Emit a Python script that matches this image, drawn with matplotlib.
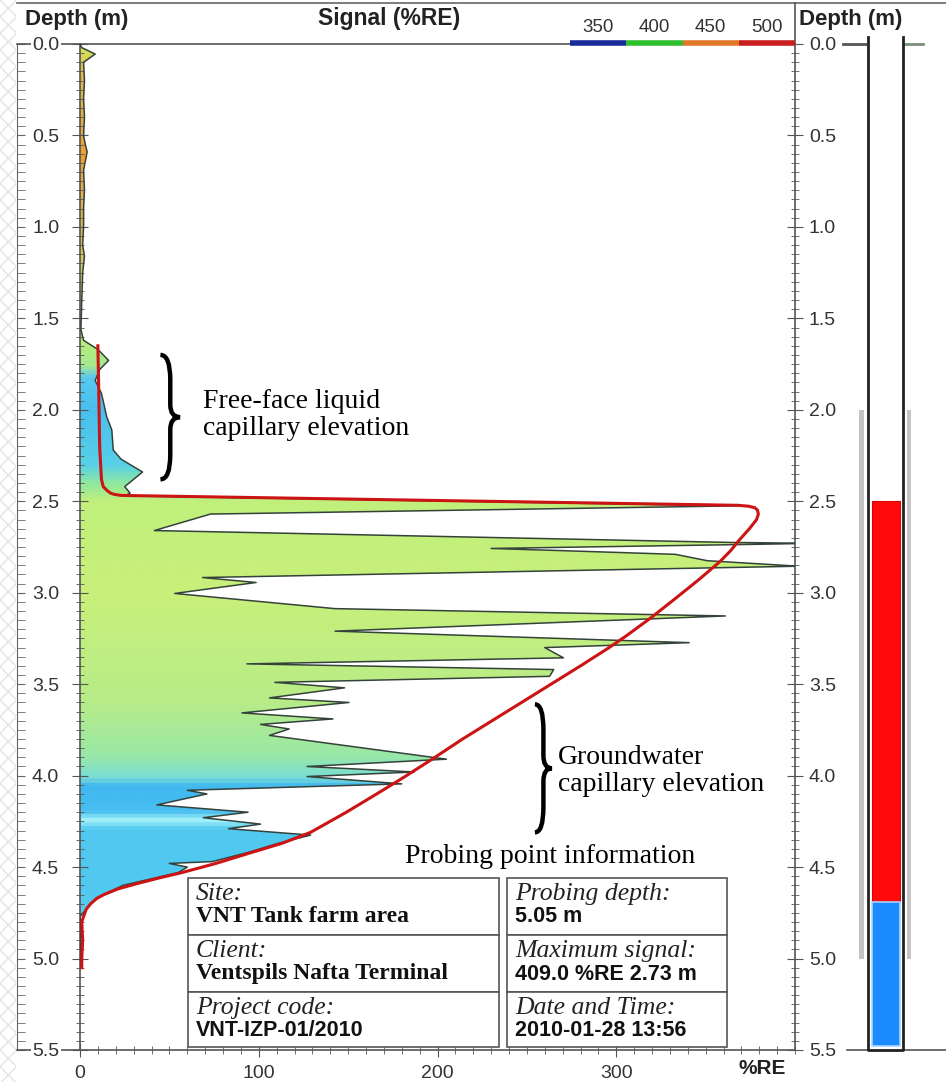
import numpy as np
import matplotlib
matplotlib.use('Agg')
import matplotlib.pyplot as plt
from matplotlib.colors import LinearSegmentedColormap
from matplotlib.lines import Line2D
from matplotlib.patches import Rectangle, PathPatch
from matplotlib.path import Path
from matplotlib.ticker import MultipleLocator, FixedLocator
from matplotlib.transforms import ScaledTranslation

# probe log, depth in m, signal in %RE
sig_depth = [0.00, 0.02, 0.055, 0.10, 0.20, 0.30, 0.40, 0.50, 0.55, 0.59, 0.64, 0.69, 0.80, 0.90,
             1.00, 1.10, 1.16, 1.25, 1.40, 1.56, 1.62, 1.67, 1.73, 1.78, 1.84, 1.91, 2.04, 2.11,
             2.22, 2.27, 2.34, 2.42, 2.455, 2.47, 2.525, 2.57, 2.66, 2.725, 2.73, 2.735, 2.758,
             2.77, 2.79, 2.825, 2.855, 2.917, 2.944, 3.004, 3.087, 3.127, 3.21, 3.273, 3.30, 3.356,
             3.389, 3.42, 3.457, 3.49, 3.52, 3.575, 3.60, 3.657, 3.69, 3.72, 3.745, 3.78, 3.91,
             3.95, 3.98, 4.005, 4.045, 4.08, 4.10, 4.16, 4.20, 4.23, 4.265, 4.29, 4.325, 4.37,
             4.42, 4.47, 4.48, 4.50, 4.53, 4.60, 4.67, 4.77, 4.90, 5.05]
sig_val = [0, 1, 8.5, 2, 2.5, 2, 2.5, 2, 3, 4, 3, 2, 2.5, 2,
           2, 1.5, 2.5, 1.5, 1, 0.5, 2, 10, 16, 11, 8.5, 12, 15, 17.8,
           18.6, 23, 35, 25, 28, 25, 368, 73, 41.6, 364, 409, 380, 230,
           270, 333, 351, 402, 68.6, 98.5, 53, 142.7, 361, 142.7, 340.8, 260, 270.5,
           93.4, 265, 262.7, 109, 148, 106, 150.5, 90.6, 141.5, 101, 117, 106, 205,
           127, 187, 127, 180, 60, 71, 43, 94, 69, 101, 83, 129, 111,
           94, 74, 50, 60, 55, 24, 9, 0, 0.5, 0]

# red fitted curve
fit_depth = [1.65, 1.90, 2.20, 2.38, 2.42, 2.44, 2.455, 2.462, 2.468, 2.522, 2.527, 2.535, 2.548,
             2.57, 2.60, 2.65, 2.71, 2.77, 2.83, 2.93, 3.04, 3.14, 3.24, 3.30, 3.40, 3.50, 3.60,
             3.70, 3.80, 3.91, 4.01, 4.10, 4.20, 4.31, 4.37, 4.42, 4.48, 4.53, 4.56, 4.59, 4.62,
             4.65, 4.67, 4.70, 4.73, 4.77, 4.80, 4.90, 5.00, 5.05]
fit_val = [10, 10.5, 11, 12, 13, 15, 17, 19, 23, 368, 374, 377.5, 379,
           379.5, 378.5, 374.5, 369, 364, 358, 346, 332, 319, 305, 296, 280, 263.5, 247,
           230.5, 214, 197, 181, 166, 149, 129, 113, 96, 76, 57, 44, 32, 21,
           13.5, 9.6, 6, 3.5, 2, 1, 1.5, 1, 1]

# fill colour (dominant wavelength) along depth
fill_depth = [0.0, 0.12, 0.5, 0.6, 0.7, 1.5, 1.62, 1.75, 1.82, 2.0, 2.3, 2.4, 2.5, 3.0, 3.6,
              3.9, 4.02, 4.06, 4.2, 4.25, 4.3, 4.6, 4.8, 5.5]
fill_colors = ['#d4e860', '#e0c050', '#e8a840', '#f0a030', '#e8a848', '#c8e070', '#b8ec78',
               '#a8e890', '#58c8f0', '#48c0f0', '#58d0e8', '#90e8a0', '#c0f07c', '#c8f07a',
               '#b8ec88', '#98e8a8', '#78dcd8', '#40b8f0', '#48bef0', '#a0f0f8', '#50c8f0',
               '#50c8f0', '#58ccf0', '#58ccf0']

band_labels = ['350', '400', '450', '500']
band_colors = ['#1a2a9a', '#2ec02e', '#e07828', '#c81e1e']

# well column
screen_top, screen_bottom = 2.0, 5.0
product_top, water_top, column_bottom = 2.5, 4.69, 5.48
max_depth = 5.5

SANS = 'Liberation Sans'
SERIF = 'Liberation Serif'
W, H = 946, 1082


def fx(px):
    return px / W


def fy(py):
    return 1 - py / H


def brace(ax, x, y0, y1, w):
    h = y1 - y0
    ym = (y0 + y1) / 2
    xm = x + w * 0.5
    verts = [(x, y0), (xm, y0), (xm, y0 + 0.2 * h),
             (xm, ym - 0.1 * h), (xm, ym), (x + w, ym),
             (xm, ym), (xm, ym + 0.1 * h),
             (xm, y1 - 0.2 * h), (xm, y1), (x, y1)]
    codes = [Path.MOVETO, Path.CURVE3, Path.CURVE3,
             Path.LINETO, Path.CURVE3, Path.CURVE3,
             Path.CURVE3, Path.CURVE3,
             Path.LINETO, Path.CURVE3, Path.CURVE3]
    ax.add_patch(PathPatch(Path(verts, codes), fill=False, lw=3.2, color='black', zorder=6))


fig = plt.figure(figsize=(W / 100, H / 100), dpi=100)
ax_b = fy(1050)
ax_h = fy(44) - ax_b
ax = fig.add_axes([fx(80), ax_b, fx(795) - fx(80), ax_h])
ax2 = fig.add_axes([fx(795), ax_b, fx(946) - fx(795), ax_h])
axl = fig.add_axes([fx(17), ax_b, fx(80) - fx(17), ax_h])

# gradient fill under the signal
poly = ax.fill_betweenx(sig_depth, 0, sig_val, facecolor='none', edgecolor='none')
cmap = LinearSegmentedColormap.from_list('sig', list(zip(np.array(fill_depth) / max_depth, fill_colors)))
grad = np.linspace(0, max_depth, 1100).reshape(-1, 1)
img = ax.imshow(grad, cmap=cmap, vmin=0, vmax=max_depth, extent=[0, 400, max_depth, 0],
                aspect='auto', origin='upper', interpolation='bilinear', zorder=1)
img.set_clip_path(poly.get_paths()[0], transform=ax.transData)

ax.plot(sig_val, sig_depth, color='#34423a', lw=1.1, zorder=3)
ax.plot(fit_val, fit_depth, color='#cc1414', lw=2.2, zorder=4, solid_joinstyle='round')

ax.set_xlim(0, 400)
ax.set_ylim(max_depth, 0)
ax.xaxis.set_major_locator(FixedLocator([0, 100, 200, 300]))
ax.xaxis.set_minor_locator(MultipleLocator(10))
ax.yaxis.set_major_locator(MultipleLocator(0.5))
ax.yaxis.set_minor_locator(MultipleLocator(0.05))
ax.yaxis.set_major_formatter(plt.FormatStrFormatter('%.1f'))
ax.tick_params(axis='y', which='both', left=True, right=True, labelleft=True, labelright=True,
               direction='inout', colors='#555', labelcolor='#333', labelsize=14, pad=4)
ax.tick_params(axis='y', which='major', length=12)
ax.tick_params(axis='y', which='minor', length=6)
ax.tick_params(axis='x', which='both', direction='inout', colors='#555', labelcolor='#333',
               labelsize=14, pad=6)
ax.tick_params(axis='x', which='major', length=10)
ax.tick_params(axis='x', which='minor', length=6)
shift = ScaledTranslation(-5 / 72, 0, fig.dpi_scale_trans)
for t in ax.yaxis.get_major_ticks():
    t.label1.set_transform(t.label1.get_transform() + shift)
for lab in ax.get_yticklabels() + ax.get_xticklabels():
    lab.set_fontfamily(SANS)
    lab.set_bbox(dict(facecolor='white', edgecolor='none', pad=1))
for sp in ax.spines.values():
    sp.set_color('#555')
    sp.set_linewidth(1.2)

# frame axis on the far left
axl.set_ylim(max_depth, 0)
axl.set_xlim(0, 1)
axl.patch.set_visible(False)
for k in ['top', 'right', 'bottom']:
    axl.spines[k].set_visible(False)
axl.spines['left'].set_color('#666')
axl.yaxis.set_major_locator(MultipleLocator(0.5))
axl.yaxis.set_minor_locator(MultipleLocator(0.05))
axl.tick_params(axis='y', which='both', direction='in', colors='#666', labelleft=False, length=6)
axl.set_xticks([])
axl.set_zorder(-2)

# annotations
brace(ax, 45, 1.70, 2.38, 11)
ax.text(69, 2.03, 'Free-face liquid\ncapillary elevation', family=SERIF, fontsize=20,
        va='center', ha='left', linespacing=1.1, zorder=6)
brace(ax, 254.5, 3.61, 4.31, 9.5)
ax.text(267.5, 3.975, 'Groundwater\ncapillary elevation', family=SERIF, fontsize=20,
        va='center', ha='left', linespacing=1.1, zorder=6)
ax.text(263, 4.44, 'Probing point information', family=SERIF, fontsize=20,
        va='center', ha='center', zorder=6)

# info boxes
rows = [878, 935, 992, 1047]
left_items = [('Site:', 'VNT Tank farm area', SERIF), ('Client:', 'Ventspils Nafta Terminal', SERIF),
              ('Project code:', 'VNT-IZP-01/2010', SANS)]
right_items = [('Probing depth:', '5.05 m', SANS), ('Maximum signal:', '409.0 %RE 2.73 m', SANS),
               ('Date and Time:', '2010-01-28 13:56', SANS)]
for (x0, x1), items in [((188, 499), left_items), ((507, 727), right_items)]:
    for i, (lab, val, fam) in enumerate(items):
        fig.patches.append(Rectangle((fx(x0), fy(rows[i + 1])), fx(x1) - fx(x0), fy(rows[i]) - fy(rows[i + 1]),
                                     transform=fig.transFigure, facecolor='white', edgecolor='#555',
                                     lw=1.2, zorder=5))
        fig.text(fx(x0 + 8), fy(rows[i] + 16), lab, family=SERIF, style='italic', fontsize=18.5,
                 va='center', ha='left', color='#222', zorder=6)
        fig.text(fx(x0 + 8), fy(rows[i] + 39), val, family=fam, weight='bold',
                 fontsize=17 if fam == SERIF else 15.5, va='center', ha='left', color='#111', zorder=6)

# well column panel
ax2.set_ylim(max_depth, 0)
ax2.set_xlim(0, 151)
ax2.patch.set_visible(False)
ax2.axis('off')
ax2.add_patch(Rectangle((64, screen_top), 4.5, screen_bottom - screen_top, color='#c4c4c4', lw=0))
ax2.add_patch(Rectangle((111.5, screen_top), 4.5, screen_bottom - screen_top, color='#c4c4c4', lw=0))
ax2.add_patch(Rectangle((73, -0.04), 35, max_depth + 0.04, facecolor='white', edgecolor='none',
                        clip_on=False, zorder=2))
ax2.add_patch(Rectangle((76.5, product_top), 28, water_top - product_top, facecolor='#ff0a0a',
                        edgecolor='#e00000', lw=0.8, zorder=3))
ax2.add_patch(Rectangle((76.5, water_top), 28, column_bottom - water_top, facecolor='#1a8cff',
                        edgecolor='#a8d4ff', lw=1.2, zorder=3))
ax2.plot([73, 73, 108, 108], [-0.04, max_depth, max_depth, -0.04], color='#222', lw=2,
         clip_on=False, zorder=4)
ax2.plot([48, 73], [0, 0], color='#555', lw=2, clip_on=False, zorder=1)
ax2.plot([108, 128], [0, 0], color='#7a907a', lw=2, clip_on=False, zorder=1)
ax2.plot([52, 151], [max_depth, max_depth], color='#555', lw=1.2, clip_on=False, zorder=1)

# header, frame and legend
fig.add_artist(Line2D([fx(17), 1], [fy(3), fy(3)], color='#666', lw=1.2, zorder=-1))
fig.add_artist(Line2D([fx(795), fx(795)], [fy(3), fy(44)], color='#555', lw=1.2, zorder=-1))
fig.add_artist(Line2D([fx(17), fx(80)], [fy(44), fy(44)], color='#555', lw=1.2, zorder=-1))
fig.add_artist(Line2D([fx(17), fx(80)], [fy(1050), fy(1050)], color='#555', lw=1.2, zorder=-1))
fig.patches.append(Rectangle((0, 0), fx(16), 1, transform=fig.transFigure, facecolor='white',
                             edgecolor='#e4e4e4', hatch='xx', lw=0, zorder=-1))

fig.text(fx(25), fy(19), 'Depth (m)', family=SANS, weight='bold', fontsize=16, va='center', color='#222')
fig.text(fx(799), fy(19), 'Depth (m)', family=SANS, weight='bold', fontsize=16, va='center', color='#222')
fig.text(fx(389), fy(19), 'Signal (%RE)', family=SANS, weight='bold', fontsize=16.5, va='center',
         ha='center', color='#222')
fig.text(fx(786), fy(1068), '%RE', family=SANS, weight='bold', fontsize=15, va='center',
         ha='right', color='#222')

seg = (795 - 570) / len(band_colors)
for i, (lab, col) in enumerate(zip(band_labels, band_colors)):
    x0 = 570 + i * seg
    fig.add_artist(Line2D([fx(x0), fx(x0 + seg)], [fy(43), fy(43)], color=col, lw=4,
                          solid_capstyle='butt', zorder=8))
    fig.text(fx(x0 + seg / 2), fy(27), lab, family=SANS, fontsize=13.5, ha='center', va='center',
             color='#333')

fig.savefig('out.png', dpi=100)
